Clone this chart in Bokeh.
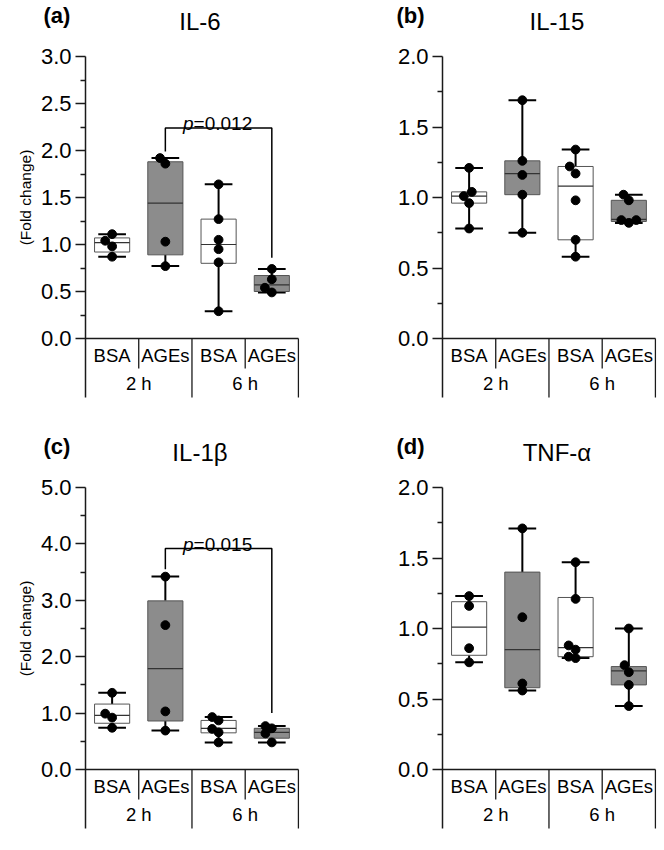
import numpy as np
from bokeh.plotting import figure
from bokeh.models import LinearAxis, FixedTicker, PrintfTickFormatter, Label, Range1d, Title
from bokeh.layouts import column, row
from bokeh.embed import file_html
from bokeh.resources import INLINE
from bokeh.core.properties import value

# ---------------- data ----------------
conditions = ["BSA", "AGEs", "BSA", "AGEs"]
times = ["2 h", "6 h"]
titles = ["IL-6", "IL-15", "IL-1β", "TNF-α"]
letters = ["(a)", "(b)", "(c)", "(d)"]
y_max = [3.0, 2.0, 5.0, 2.0]
y_step = [0.5, 0.5, 1.0, 0.5]
y_label = "(Fold change)"

# IL-6 (a)
il6_points = [[1.11, 1.04, 0.98, 0.87], [1.92, 1.86, 1.03, 0.77],
              [1.64, 1.27, 1.05, 0.95, 0.81, 0.29], [0.74, 0.63, 0.54, 0.49]]
il6_jitter = [[0, -0.13, 0, 0], [-0.1, 0, 0, 0], [0, 0, 0, 0, 0, 0], [0, 0, -0.13, 0]]
il6_q1 = [0.92, 0.89, 0.80, 0.50]
il6_median = [1.02, 1.44, 1.00, 0.57]
il6_q3 = [1.07, 1.88, 1.27, 0.67]
il6_bracket = dict(left=1, right=3, y_left=1.99, y_top=2.24, y_right=0.86, p="0.012")

# IL-15 (b)
il15_points = [[1.21, 1.04, 1.01, 0.96, 0.78], [1.69, 1.26, 1.16, 1.02, 0.75],
               [1.34, 1.22, 1.17, 0.98, 0.70, 0.58], [1.02, 0.98, 0.84, 0.82, 0.84]]
il15_jitter = [[0, 0.05, -0.1, 0, 0], [0, 0, 0, 0, 0], [0, -0.11, 0, 0, 0, 0],
               [-0.1, 0, -0.14, 0, 0.14]]
il15_q1 = [0.96, 1.02, 0.70, 0.83]
il15_median = [1.01, 1.17, 1.08, 0.845]
il15_q3 = [1.04, 1.26, 1.22, 0.98]

# IL-1beta (c)
il1b_points = [[1.36, 0.99, 0.92, 0.74], [3.42, 2.56, 1.03, 0.69],
               [0.93, 0.87, 0.72, 0.66, 0.48], [0.77, 0.73, 0.64, 0.48]]
il1b_jitter = [[0, -0.13, 0, 0], [0, 0, 0, 0], [-0.12, 0, -0.12, 0, 0], [-0.12, 0, -0.12, 0]]
il1b_q1 = [0.82, 0.86, 0.65, 0.555]
il1b_median = [0.96, 1.79, 0.73, 0.66]
il1b_q3 = [1.16, 2.99, 0.87, 0.73]
il1b_bracket = dict(left=1, right=3, y_left=3.55, y_top=3.92, y_right=1.00, p="0.015")

# TNF-alpha (d)
tnf_points = [[1.23, 1.16, 0.86, 0.76], [1.71, 1.08, 0.61, 0.56],
              [1.47, 1.21, 0.88, 0.85, 0.80, 0.79], [1.00, 0.74, 0.69, 0.60, 0.45]]
tnf_jitter = [[0, 0, 0, 0], [0, 0, 0, 0], [0, 0, -0.13, 0, -0.13, 0], [0, -0.08, 0, 0, 0]]
tnf_q1 = [0.81, 0.58, 0.80, 0.60]
tnf_median = [1.01, 0.85, 0.865, 0.70]
tnf_q3 = [1.19, 1.40, 1.22, 0.73]

# ---------------- style / layout ----------------
FONT = "Liberation Sans"
FILL = {"BSA": "white", "AGEs": "#8c8c8c"}
LINE = "#1a1a1a"
AXIS_PX = 282.0     # pixel length of the value axis
FRAME_W = 214
X_END = 4.02
BOX_W = 0.66
CAP_W = 0.52
YLAB_FS = 15.5


def make_panel(i, pts, jit, q1, med, q3, bracket, width, height, left, zero_px, ylabel):
    ymax = y_max[i]
    k = AXIS_PX / ymax                   # px per data unit
    cw = FRAME_W / X_END                 # px per category
    p = figure(width=width, height=height, output_backend="svg", toolbar_location=None,
               x_range=Range1d(0, X_END),
               y_range=Range1d(-(height - zero_px) / k, zero_px / k),
               x_axis_location=None, y_axis_location=None, title_location=None,
               min_border_left=left, min_border_right=width - left - FRAME_W,
               min_border_top=0, min_border_bottom=0)
    p.xgrid.visible = False
    p.ygrid.visible = False
    p.outline_line_color = None

    # value axis
    ticks = list(np.round(np.arange(0, ymax + 1e-9, y_step[i]), 3))
    minor = list(np.round(np.arange(y_step[i] / 2, ymax, y_step[i]), 3))
    ax = LinearAxis(ticker=FixedTicker(ticks=ticks, minor_ticks=minor),
                    formatter=PrintfTickFormatter(format="%.1f"),
                    bounds=(-59 / k, ymax))
    ax.axis_line_color = LINE
    ax.axis_line_width = 1.5
    ax.major_tick_line_color = LINE
    ax.major_tick_line_width = 1.5
    ax.minor_tick_line_color = LINE
    ax.minor_tick_line_width = 1.5
    ax.major_tick_out = 10
    ax.major_tick_in = 0
    ax.minor_tick_out = 5
    ax.minor_tick_in = 0
    ax.major_label_standoff = 4
    ax.major_label_text_font = FONT
    ax.major_label_text_font_size = "22px"
    ax.major_label_text_color = "black"
    p.add_layout(ax, "left")

    n = len(conditions)
    xc = [j + 0.5 for j in range(n)]

    # category table below the axis
    p.segment(x0=[0], y0=[0], x1=[n], y1=[0], line_color=LINE, line_width=1.5)
    short = [j for j in range(1, n + 1) if j % 2 == 1]
    long_ = [j for j in range(1, n + 1) if j % 2 == 0]
    p.segment(x0=short, y0=[0] * len(short), x1=short, y1=[-30 / k] * len(short),
              line_color=LINE, line_width=1.3)
    p.segment(x0=long_, y0=[0] * len(long_), x1=long_, y1=[-59 / k] * len(long_),
              line_color=LINE, line_width=1.3)
    p.text(x=xc, y=[-17 / k] * n, text=conditions, text_align="center",
           text_baseline="middle", text_font=value(FONT), text_font_size="18.5px",
           text_color="black")
    gx = [2 * g + 1 for g in range(len(times))]
    p.text(x=gx, y=[-45 / k] * len(times), text=times, text_align="center",
           text_baseline="middle", text_font=value(FONT), text_font_size="18.5px",
           text_color="black")

    # whiskers
    lo = [min(v) for v in pts]
    hi = [max(v) for v in pts]
    p.segment(x0=xc, y0=q3, x1=xc, y1=hi, line_color="black", line_width=2)
    p.segment(x0=xc, y0=q1, x1=xc, y1=lo, line_color="black", line_width=2)
    p.segment(x0=[x - CAP_W / 2 for x in xc], y0=hi, x1=[x + CAP_W / 2 for x in xc], y1=hi,
              line_color="black", line_width=2)
    p.segment(x0=[x - CAP_W / 2 for x in xc], y0=lo, x1=[x + CAP_W / 2 for x in xc], y1=lo,
              line_color="black", line_width=2)
    # boxes
    p.vbar(x=xc, width=BOX_W, bottom=q1, top=q3,
           fill_color=[FILL[c] for c in conditions], line_color="#555555", line_width=1)
    p.segment(x0=[x - BOX_W / 2 for x in xc], y0=med, x1=[x + BOX_W / 2 for x in xc], y1=med,
              line_color="#333333", line_width=1.2)
    # points
    px, py = [], []
    for j in range(n):
        for v, d in zip(pts[j], jit[j]):
            px.append(xc[j] + d)
            py.append(v)
    p.scatter(px, py, size=8.8, fill_color="black", line_color="black")

    # significance bracket
    if bracket is not None:
        xl = xc[bracket["left"]]
        xr = xc[bracket["right"]]
        p.line(x=[xl, xl, xr, xr],
               y=[bracket["y_left"], bracket["y_top"], bracket["y_top"], bracket["y_right"]],
               line_color="black", line_width=1.5)
        xm = (xl + xr) / 2
        p.text(x=[xm], y=[bracket["y_top"]], text=["p"], text_align="right",
               text_baseline="alphabetic", x_offset=-25, y_offset=-4,
               text_font=value(FONT), text_font_style="italic", text_font_size="19px",
               text_color="black")
        p.text(x=[xm], y=[bracket["y_top"]], text=["=" + bracket["p"]], text_align="left",
               text_baseline="alphabetic", x_offset=-25, y_offset=-4,
               text_font=value(FONT), text_font_size="19px", text_color="black")

    # title (inside the frame) and panel letter (side panel, not clipped)
    p.text(x=[2.15], y=[317 / k], text=[titles[i]], text_align="center", text_baseline="middle",
           text_font=value(FONT), text_font_size="24px", text_color="black")
    letter = Label(x=(-42 if ylabel else -46) / cw, y=323 / k, text=letters[i],
                   text_align="left", text_baseline="middle", text_font=FONT,
                   text_font_size="22px", text_font_style="bold", text_color="black")
    p.add_layout(letter, "right" if ylabel else "left")
    if ylabel:
        tlen = 6.169 * YLAB_FS
        p.add_layout(Title(text=y_label, align="right", standoff=8,
                           offset=zero_px - AXIS_PX / 2 - tlen / 2,
                           text_font=FONT, text_font_size=f"{YLAB_FS}px",
                           text_font_style="normal", text_color="black"), "left")
    return p


pa = make_panel(0, il6_points, il6_jitter, il6_q1, il6_median, il6_q3, il6_bracket,
                364, 425, 85, 338, True)
pb = make_panel(1, il15_points, il15_jitter, il15_q1, il15_median, il15_q3, None,
                298, 425, 78, 338, False)
pc = make_panel(2, il1b_points, il1b_jitter, il1b_q1, il1b_median, il1b_q3, il1b_bracket,
                364, 414, 85, 344, True)
pd = make_panel(3, tnf_points, tnf_jitter, tnf_q1, tnf_median, tnf_q3, None,
                298, 414, 78, 344, False)

layout = column(row(pa, pb), row(pc, pd))
open("out.html", "w").write(file_html(layout, INLINE))
